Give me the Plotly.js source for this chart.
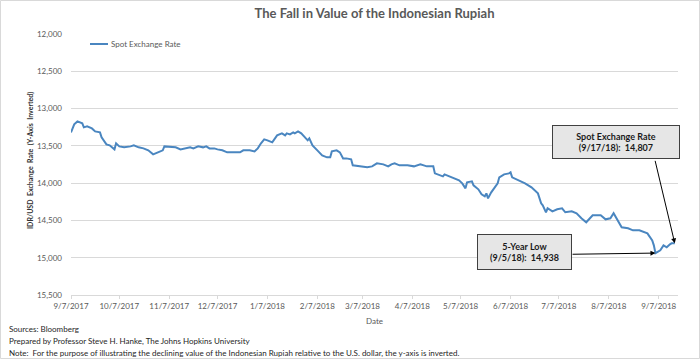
<!DOCTYPE html>
<html>
<head>
<meta charset="utf-8">
<script src="https://cdn.plot.ly/plotly-3.0.1.min.js"></script>
<style>html,body{margin:0;padding:0;background:#fff;}#chart{width:700px;height:359px;}</style>
</head>
<body>
<div id="chart"></div>
<script>
// Spot IDR/USD exchange rate
const dates = [
 "2017-09-07","2017-09-09","2017-09-11","2017-09-14","2017-09-15","2017-09-17","2017-09-20","2017-09-22","2017-09-25","2017-09-26",
 "2017-09-29","2017-10-01","2017-10-04","2017-10-05","2017-10-07","2017-10-10","2017-10-14","2017-10-16","2017-10-19","2017-10-22",
 "2017-10-25","2017-10-28","2017-10-31","2017-11-03","2017-11-04","2017-11-08","2017-11-11","2017-11-14","2017-11-17","2017-11-20",
 "2017-11-22","2017-11-25","2017-11-28","2017-11-30","2017-12-02","2017-12-05","2017-12-07","2017-12-10","2017-12-13","2017-12-16",
 "2017-12-21","2017-12-23","2017-12-27","2017-12-30","2018-01-01","2018-01-03","2018-01-05","2018-01-07","2018-01-10","2018-01-13",
 "2018-01-16","2018-01-18","2018-01-19","2018-01-21","2018-01-23","2018-01-24","2018-01-26","2018-01-28","2018-01-30","2018-02-01",
 "2018-02-02","2018-02-04","2018-02-07","2018-02-10","2018-02-13","2018-02-15","2018-02-16","2018-02-19","2018-02-21","2018-02-23",
 "2018-02-25","2018-02-28","2018-03-01","2018-03-05","2018-03-10","2018-03-13","2018-03-16","2018-03-20","2018-03-23","2018-03-25",
 "2018-03-27","2018-03-30","2018-04-04","2018-04-08","2018-04-12","2018-04-16","2018-04-20","2018-04-21","2018-04-24","2018-04-26",
 "2018-04-27","2018-04-30","2018-05-03","2018-05-06","2018-05-08","2018-05-10","2018-05-11","2018-05-14","2018-05-15","2018-05-17",
 "2018-05-18","2018-05-20","2018-05-22","2018-05-23","2018-05-24","2018-05-26","2018-05-28","2018-05-30","2018-05-31","2018-06-03",
 "2018-06-06","2018-06-07","2018-06-08","2018-06-12","2018-06-16","2018-06-20","2018-06-22","2018-06-24","2018-06-26","2018-06-27",
 "2018-06-29","2018-06-30","2018-07-03","2018-07-06","2018-07-09","2018-07-11","2018-07-15","2018-07-18","2018-07-21","2018-07-24",
 "2018-07-28","2018-08-02","2018-08-05","2018-08-08","2018-08-10","2018-08-13","2018-08-15","2018-08-19","2018-08-22","2018-08-26",
 "2018-08-31","2018-09-03","2018-09-04","2018-09-05","2018-09-08","2018-09-10","2018-09-12","2018-09-14","2018-09-15","2018-09-17"
];
const spotRate = [
 13320,13212,13172,13198,13252,13239,13266,13306,13319,13386,
 13480,13493,13547,13466,13507,13520,13507,13493,13520,13534,
 13560,13614,13587,13560,13507,13520,13520,13547,13534,13520,
 13534,13507,13520,13507,13534,13534,13547,13560,13587,13587,
 13587,13560,13560,13574,13534,13466,13413,13426,13453,13359,
 13333,13359,13333,13346,13319,13333,13306,13333,13386,13426,
 13400,13493,13560,13627,13654,13654,13574,13560,13587,13668,
 13668,13681,13761,13775,13788,13775,13735,13748,13775,13748,
 13735,13761,13761,13775,13748,13775,13775,13869,13895,13909,
 13882,13909,13936,13962,14003,14070,13989,13976,14029,14070,
 14083,14150,14177,14137,14204,14123,14070,14003,13922,13882,
 13869,13855,13922,13962,14003,14056,14096,14137,14270,14297,
 14391,14337,14378,14351,14337,14391,14378,14404,14471,14525,
 14431,14431,14485,14471,14404,14525,14592,14606,14633,14633,
 14673,14767,14834,14938,14900,14834,14860,14820,14807,14807
];
const tickDates = ["2017-09-07","2017-10-07","2017-11-07","2017-12-07","2018-01-07","2018-02-07","2018-03-07","2018-04-07","2018-05-07","2018-06-07","2018-07-07","2018-08-07","2018-09-07"];
const tickLabels = ["9/7/2017","10/7/2017","11/7/2017","12/7/2017","1/7/2018","2/7/2018","3/7/2018","4/7/2018","5/7/2018","6/7/2018","7/7/2018","8/7/2018","9/7/2018"];
const seriesName = "Spot Exchange Rate";
const lowDate = "2018-09-05", lowValue = 14938;
const lastDate = "2018-09-17", lastValue = 14807;

const FONT = "Lato, 'Open Sans', sans-serif";
const GREY = "#595959";
const LINE = "#4a86c0";
const px = v => (v - 71) / 607;      // pixel x -> paper x
const py = v => (295 - v) / 261;     // pixel y -> paper y

const trace = {
  x: dates, y: spotRate, type: "scatter", mode: "lines",
  name: seriesName, showlegend: false,
  line: {color: LINE, width: 2}
};

const layout = {
  width: 700, height: 359,
  margin: {l: 71, r: 22, t: 34, b: 64},
  paper_bgcolor: "#ffffff", plot_bgcolor: "#ffffff",
  font: {family: FONT, color: GREY, size: 8},
  title: {text: "<b>The Fall in Value of the Indonesian Rupiah</b>", x: 0.5, xref: "paper", y: 0.962, yanchor: "middle",
          font: {family: FONT, size: 13, color: GREY}},
  showlegend: false,
  xaxis: {
    type: "date", range: ["2017-09-07", "2018-09-19"],
    tickmode: "array", tickvals: tickDates, ticktext: tickLabels,
    showgrid: false, zeroline: false,
    showline: true, linecolor: "#d9d9d9", linewidth: 1,
    ticks: "outside", ticklen: 3, tickcolor: "#d9d9d9",
    tickfont: {family: FONT, size: 8, color: GREY},
    title: {text: "Date", font: {family: FONT, size: 8, color: GREY}, standoff: 8}
  },
  yaxis: {
    range: [15500, 12000], dtick: 500, tick0: 12000,
    tickformat: ",d", showgrid: true, gridcolor: "#d9d9d9", gridwidth: 1,
    zeroline: false, showline: false, ticks: "",
    tickfont: {family: FONT, size: 8, color: GREY}, ticklabelstandoff: 8
  },
  shapes: [
    {type: "rect", xref: "paper", yref: "paper", x0: px(0.5), x1: px(699.5), y0: py(358.5), y1: py(0.5),
     line: {color: "#d9d9d9", width: 1}, fillcolor: "rgba(0,0,0,0)", layer: "below"},
    // legend sample line
    {type: "line", xref: "paper", yref: "paper", x0: px(90), x1: px(108), y0: py(44), y1: py(44),
     line: {color: LINE, width: 2}}
  ],
  annotations: [
    // y-axis title
    {x: px(30), y: py(161), xref: "paper", yref: "paper", xanchor: "center", yanchor: "middle", textangle: -90,
     text: "<b>IDR/USD&nbsp; Exchange&nbsp; Rate&nbsp; (Y-Axis&nbsp; Inverted)</b>", showarrow: false,
     font: {family: FONT, size: 7, color: "#333333"}},
    {x: px(109), y: py(44), xref: "paper", yref: "paper", xanchor: "left", yanchor: "middle",
     text: seriesName, showarrow: false, font: {family: FONT, size: 8, color: GREY}},
    // arrow: spot rate box -> last point
    {x: lastDate, y: lastValue, xref: "x", yref: "y", ax: "2018-09-04 14:00", ay: 13681, axref: "x", ayref: "y",
     text: "", showarrow: true, arrowhead: 2, arrowsize: 1, arrowwidth: 1, arrowcolor: "#000000"},
    // arrow: low box -> low point
    {x: lowDate, y: lowValue, xref: "x", yref: "y", ax: "2018-07-14 14:00", ay: 14954, axref: "x", ayref: "y",
     text: "", showarrow: true, arrowhead: 2, arrowsize: 1, arrowwidth: 1, arrowcolor: "#000000"},
    {x: px(616), y: py(142), xref: "paper", yref: "paper", xanchor: "center", yanchor: "middle",
     text: "<b>Spot Exchange Rate<br>(9/17/18):  14,807</b>", showarrow: false, align: "center",
     width: 126, height: 32, bgcolor: "#e6e6e6", bordercolor: "#404040", borderwidth: 1, borderpad: 0,
     font: {family: FONT, size: 9, color: "#1a1a1a"}},
    {x: px(524.5), y: py(252), xref: "paper", yref: "paper", xanchor: "center", yanchor: "middle",
     text: "<b>5-Year Low<br>(9/5/18):  14,938</b>", showarrow: false, align: "center",
     width: 93, height: 34, bgcolor: "#e6e6e6", bordercolor: "#404040", borderwidth: 1, borderpad: 0,
     font: {family: FONT, size: 9, color: "#1a1a1a"}},
    {x: px(7), y: py(329), xref: "paper", yref: "paper", xanchor: "left", yanchor: "middle",
     text: "Sources: Bloomberg", showarrow: false, font: {family: FONT, size: 8, color: "#262626"}},
    {x: px(7), y: py(341), xref: "paper", yref: "paper", xanchor: "left", yanchor: "middle",
     text: "Prepared by Professor Steve H. Hanke, The Johns Hopkins University", showarrow: false, font: {family: FONT, size: 8, color: "#262626"}},
    {x: px(7), y: py(353), xref: "paper", yref: "paper", xanchor: "left", yanchor: "middle",
     text: "Note:  For the purpose of illustrating the declining value of the Indonesian Rupiah relative to the U.S. dollar, the y-axis is inverted.", showarrow: false, font: {family: FONT, size: 8, color: "#262626"}}
  ]
};

Plotly.newPlot("chart", [trace], layout, {staticPlot: true, displayModeBar: false});
</script>
</body>
</html>
